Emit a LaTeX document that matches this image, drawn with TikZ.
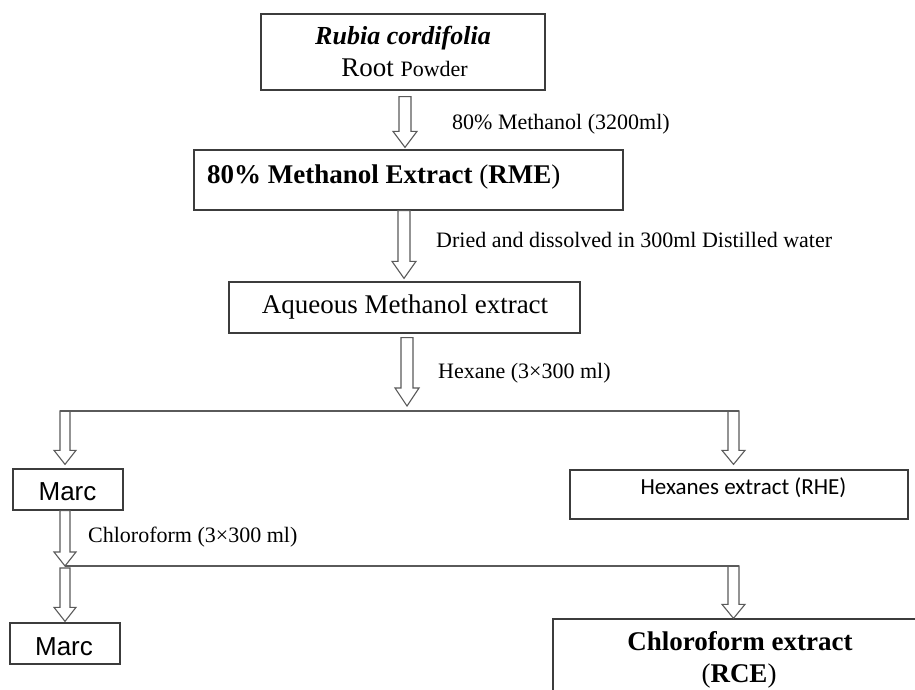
\documentclass[tikz,border=0pt]{standalone}
\usepackage{fontspec}
\setmainfont{Liberation Serif}
\newfontfamily\arialf{Liberation Sans}
\newfontfamily\calf{Carlito}
\usetikzlibrary{calc}
\definecolor{boxc}{HTML}{3C3C3C}
\definecolor{arrc}{HTML}{5A5A5A}
\newcommand{\barrow}[5]{%
  \draw[blockarr] let \p1=(#1),\p2=(#2) in
   (\x1-#3pt,\y1) -- (\x1+#3pt,\y1) -- (\x1+#3pt,\y2+#5pt) -- (\x1+#4pt,\y2+#5pt)
   -- (\x1,\y2) -- (\x1-#4pt,\y2+#5pt) -- (\x1-#3pt,\y2+#5pt) -- cycle;}
\begin{document}
\begin{tikzpicture}[x=1pt,y=-1pt,
  box/.style={draw=boxc, line width=1.3pt, rectangle, inner sep=0pt},
  blockarr/.style={draw=arrc, line width=1.1pt, fill=white, line join=miter},
  bus/.style={draw=arrc, line width=1.4pt},
  lbl/.style={anchor=base west, inner sep=0pt, font=\fontsize{22}{26}\selectfont},
  txt/.style={anchor=base, inner sep=0pt}]
\useasboundingbox (0,0) rectangle (915,690);
\clip (0,0) rectangle (915,690);
\fill[white] (0,0) rectangle (915,690);

% boxes
\node[box, minimum width=284pt, minimum height=76pt] (b1) at (403,52) {};
\node[box, minimum width=429pt, minimum height=60pt] (b2) at (408.5,180) {};
\node[box, minimum width=351pt, minimum height=51pt] (b3) at (404.5,307.5) {};
\node[box, minimum width=110pt, minimum height=41pt] (m1) at (68,489.5) {};
\node[box, minimum width=338pt, minimum height=49pt] (hx) at (739,494.5) {};
\node[box, minimum width=110pt, minimum height=41pt] (m2) at (65,643.5) {};
\node[box, minimum width=380pt, minimum height=100pt] (rce) at (743,669) {};

% box texts
\node[txt, font=\fontsize{26}{30}\selectfont\bfseries\itshape] (b1t1) at (403,45) {Rubia cordifolia};
\node[txt] (b1t2) at (404.5,77) {\fontsize{27}{30}\selectfont Root \fontsize{22}{26}\selectfont Powder};
\node[anchor=base west, inner sep=0pt, font=\fontsize{27}{30}\selectfont] (b2t) at (207,183) {\textbf{80\% Methanol Extract} (\textbf{RME})};
\node[txt, font=\fontsize{27}{30}\selectfont] (b3t) at (405,313) {Aqueous Methanol extract};
\node[txt, font=\fontsize{26}{30}\selectfont\arialf] (m1t) at (67.5,500) {Marc};
\node[txt, font=\fontsize{23}{27}\selectfont\calf] (hxt) at (743.5,494) {Hexanes extract (RHE)};
\node[txt, font=\fontsize{26}{30}\selectfont\arialf] (m2t) at (64,655) {Marc};
\node[txt, font=\fontsize{27}{30}\selectfont\bfseries] (rcet1) at (740,650) {Chloroform extract};
\node[txt, font=\fontsize{27}{30}\selectfont] (rcet2) at (739,682) {(\textbf{RCE})};

% labels
\node[lbl] (l1) at (452,130) {80\% Methanol (3200ml)};
\node[lbl] (l2) at (436,247) {Dried and dissolved in 300ml Distilled water};
\node[lbl] (l3) at (438,378) {Hexane (3×300 ml)};
\node[lbl] (l4) at (88,542) {Chloroform (3×300 ml)};

% arrow anchor points
\coordinate (a1s) at ($(b1.south)+(2,6)$);
\coordinate (a1e) at ($(b2.north)+(-3.5,-2)$);
\coordinate (a2s) at ($(b2.south)+(-4.5,0)$);
\coordinate (a2e) at ($(b3.north)+(-0.5,-3)$);
\coordinate (a3s) at ($(b3.south)+(2.5,4)$);
\coordinate (busL) at (60,411);
\coordinate (busR) at (739,411);
\coordinate (a3e) at ($(a3s |- busL)+(0,-5)$);
\coordinate (a4s) at ($(busL)+(5,0)$);
\coordinate (a4e) at ($(m1.north -| a4s)+(0,-4)$);
\coordinate (a5s) at ($(busR)+(-5.5,0)$);
\coordinate (a5e) at ($(hx.north -| a5s)+(0,-5)$);
\coordinate (a6s) at (m1.south -| a4s);
\coordinate (bus2L) at (65,566);
\coordinate (bus2R) at (739,566);
\coordinate (a7s) at ($(bus2L)+(0,2)$);
\coordinate (a7e) at ($(m2.north -| a7s)+(0,-1)$);
\coordinate (a8s) at ($(bus2R)+(-5.5,0)$);
\coordinate (a8e) at (rce.north -| a8s);

% block arrows
\barrow{a1s}{a1e}{6}{12}{16}
\barrow{a2s}{a2e}{6}{12}{17}
\barrow{a3s}{a3e}{6}{12}{18}
\barrow{a4s}{a4e}{5}{11}{14}
\barrow{a5s}{a5e}{5.5}{11.5}{14}
\barrow{a6s}{bus2L}{5}{11}{14}
\barrow{a7s}{a7e}{5}{11}{14}
\barrow{a8s}{a8e}{5.5}{11.5}{14}

% bus lines
\draw[bus] (busL) -- (busR);
\draw[bus] (bus2L) -- (bus2R);
\end{tikzpicture}
\end{document}
